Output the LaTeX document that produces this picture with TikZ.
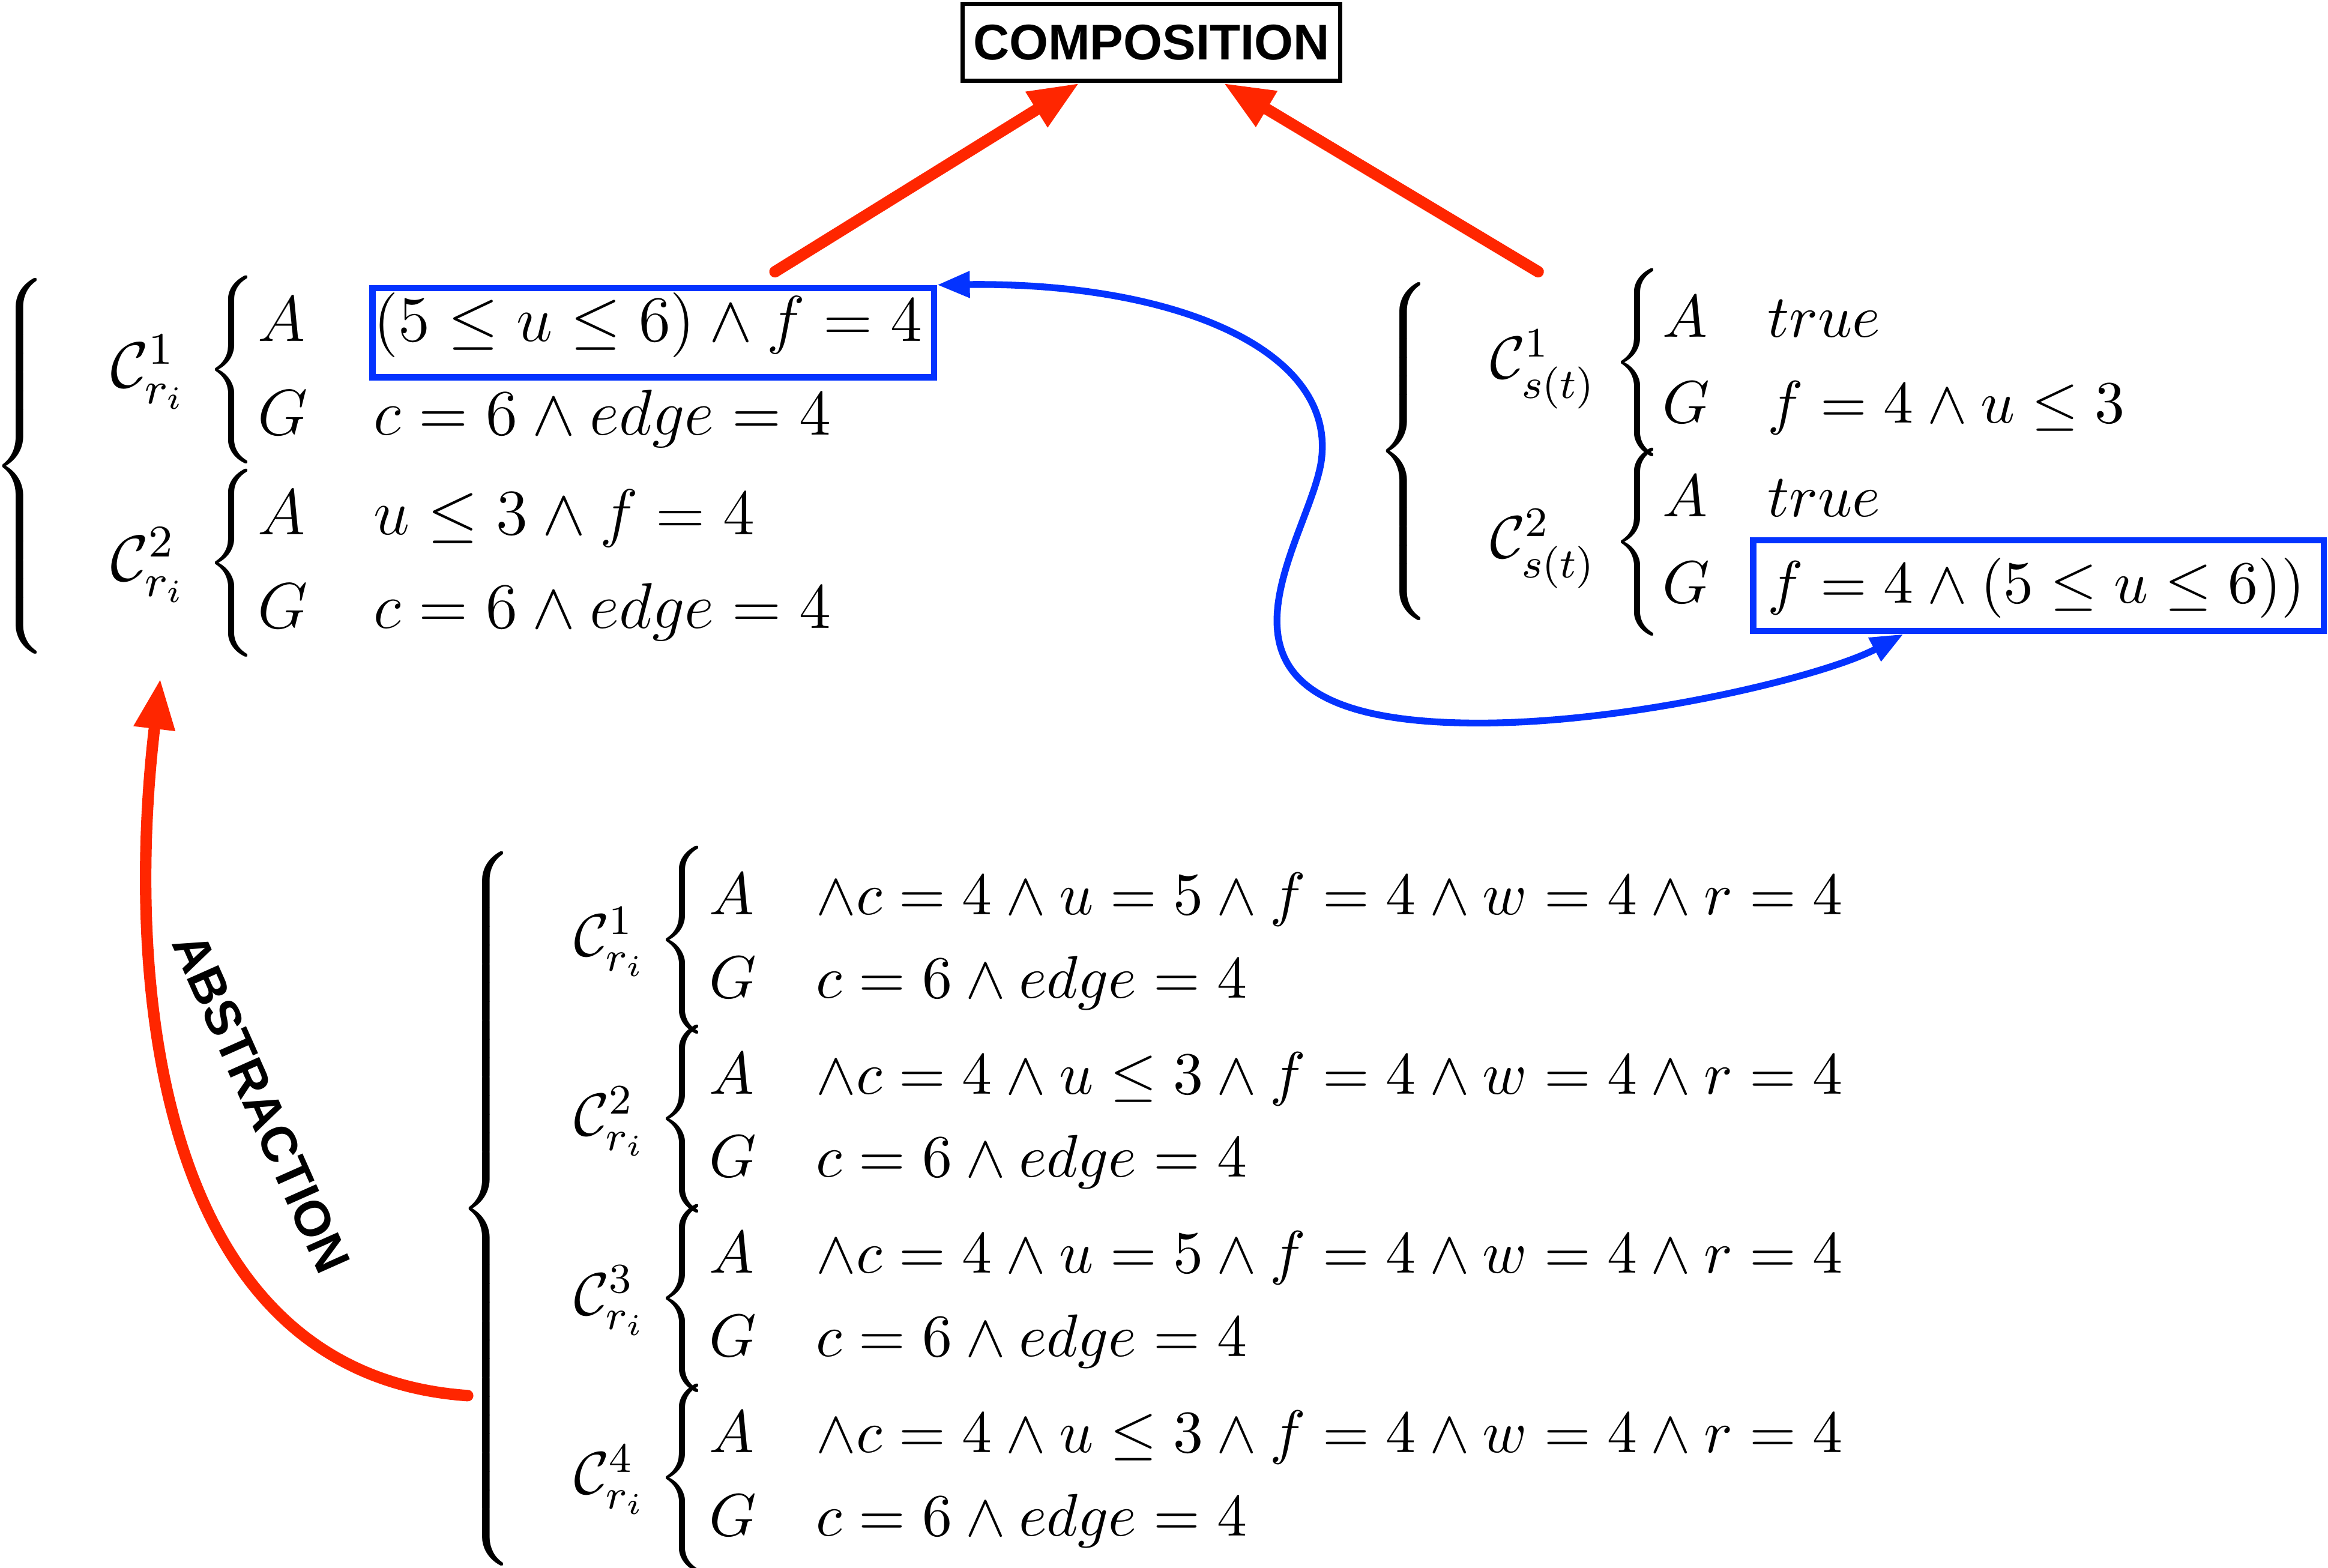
\RequirePackage{fix-cm}
\documentclass[tikz,border=0pt]{standalone}
\usepackage{amsmath}
\usepackage{fontspec}
\newfontfamily\headfont{Liberation Sans}
\usepackage{tikz}
\usetikzlibrary{arrows.meta,calc}
\definecolor{hotred}{RGB}{255,38,0}
\definecolor{brightblue}{RGB}{4,51,255}
\delimiterfactor=1000
\delimitershortfall=0pt
\newcommand{\tallbrace}[1]{$\left\{\vcenter{\hbox{\rule{0pt}{#1}}}\right.$}
\tikzset{
  largemath/.style={font=\fontsize{12.4}{15}\selectfont},
  smallmath/.style={font=\fontsize{11.5}{14}\selectfont},
  entry/.style={anchor=base west,inner sep=0pt},
  bracket/.style={anchor=west,inner sep=0pt},
  hilite/.style={draw=brightblue,line width=1.2pt,inner sep=0pt},
  headlabel/.style={font=\headfont\bfseries\fontsize{9.6}{11}\selectfont,inner sep=0pt},
  compbox/.style={headlabel,draw,line width=0.8pt,minimum width=2.54cm,minimum height=0.52cm},
  redarr/.style={-{Triangle[length=3.4mm,width=2.6mm]},line width=2.2pt,draw=hotred,line cap=round},
  bluearr/.style={{Triangle[length=2.2mm,width=1.7mm]}-{Triangle[length=2.2mm,width=1.7mm]},line width=1.3pt,draw=brightblue}
}

\begin{document}
\begin{tikzpicture}[x=0.01cm,y=-0.01cm]
  \useasboundingbox (0,0) rectangle (1568,1056);
  \node[compbox] (comp) at (775.5,28.5) {COMPOSITION};

  % abstract contract of r_i
  \node[bracket,largemath] (lbrace) at (-6,314) {\tallbrace{5.5em}};
  \node[entry,largemath] (lc1) at (74,261) {$\mathcal{C}^1_{r_i}$};
  \node[bracket,largemath] (lb1) at (138,249) {\tallbrace{2.9em}};
  \node[entry,largemath] (la1) at (173,230) {$A$};
  \node[entry,largemath] (lf1) at (251,230) {$(5\leq u\leq 6)\wedge f=4$};
  \node[entry,largemath] (lg1) at (173,293) {$G$};
  \node[entry,largemath] (lh1) at (251,293) {$c=6\wedge edge=4$};
  \node[entry,largemath] (lc2) at (74,391) {$\mathcal{C}^2_{r_i}$};
  \node[bracket,largemath] (lb2) at (138,379) {\tallbrace{2.9em}};
  \node[entry,largemath] (la2) at (173,360) {$A$};
  \node[entry,largemath] (lf2) at (251,360) {$u\leq 3\wedge f=4$};
  \node[entry,largemath] (lg2) at (173,423) {$G$};
  \node[entry,largemath] (lh2) at (251,423) {$c=6\wedge edge=4$};
  \node[hilite,minimum width=3.78cm,minimum height=0.6cm] (lbox) at (440,224) {};

  % contract of s(t)
  \node[bracket,smallmath] (rbrace) at (926,304) {\tallbrace{5.5em}};
  \node[entry,smallmath] (rc1) at (1003,255) {$\mathcal{C}^1_{s(t)}$};
  \node[bracket,smallmath] (rb1) at (1085,244) {\tallbrace{2.9em}};
  \node[entry,smallmath] (ra1) at (1119,227) {$A$};
  \node[entry,smallmath] (rf1) at (1190,227) {$true$};
  \node[entry,smallmath] (rg1) at (1119,285) {$G$};
  \node[entry,smallmath] (rh1) at (1190,285) {$f=4\wedge u\leq 3$};
  \node[entry,smallmath] (rc2) at (1003,376) {$\mathcal{C}^2_{s(t)}$};
  \node[bracket,smallmath] (rb2) at (1085,365) {\tallbrace{2.9em}};
  \node[entry,smallmath] (ra2) at (1119,348) {$A$};
  \node[entry,smallmath] (rf2) at (1190,348) {$true$};
  \node[entry,smallmath] (rg2) at (1119,406) {$G$};
  \node[entry,smallmath] (rh2) at (1190,406) {$f=4\wedge(5\leq u\leq 6))$};
  \node[hilite,minimum width=3.84cm,minimum height=0.61cm] (rbox) at (1373,394.5) {};

  % concrete contract of r_i
  \node[bracket,smallmath] (bbrace) at (308,814) {\tallbrace{11.4em}};
  \begin{scope}
  \node[entry,smallmath] (bc1) at (386,644) {$\mathcal{C}^1_{r_i}$};
  \node[bracket,smallmath] (bb1) at (442,633) {\tallbrace{2.9em}};
  \node[entry,smallmath] (ba1) at (477,616) {$A$};
  \node[entry,smallmath] (bf1) at (549,616) {$\wedge c=4\wedge u=5\wedge f=4\wedge w=4\wedge r=4$};
  \node[entry,smallmath] (bg1) at (477,672) {$G$};
  \node[entry,smallmath] (bh1) at (549,672) {$c=6\wedge edge=4$};
  \end{scope}
  \begin{scope}[yshift=-1.207cm]
  \node[entry,smallmath] (bc2) at (386,644) {$\mathcal{C}^2_{r_i}$};
  \node[bracket,smallmath] (bb2) at (442,633) {\tallbrace{2.9em}};
  \node[entry,smallmath] (ba2) at (477,616) {$A$};
  \node[entry,smallmath] (bf2) at (549,616) {$\wedge c=4\wedge u\leq 3\wedge f=4\wedge w=4\wedge r=4$};
  \node[entry,smallmath] (bg2) at (477,672) {$G$};
  \node[entry,smallmath] (bh2) at (549,672) {$c=6\wedge edge=4$};
  \end{scope}
  \begin{scope}[yshift=-2.414cm]
  \node[entry,smallmath] (bc3) at (386,644) {$\mathcal{C}^3_{r_i}$};
  \node[bracket,smallmath] (bb3) at (442,633) {\tallbrace{2.9em}};
  \node[entry,smallmath] (ba3) at (477,616) {$A$};
  \node[entry,smallmath] (bf3) at (549,616) {$\wedge c=4\wedge u=5\wedge f=4\wedge w=4\wedge r=4$};
  \node[entry,smallmath] (bg3) at (477,672) {$G$};
  \node[entry,smallmath] (bh3) at (549,672) {$c=6\wedge edge=4$};
  \end{scope}
  \begin{scope}[yshift=-3.621cm]
  \node[entry,smallmath] (bc4) at (386,644) {$\mathcal{C}^4_{r_i}$};
  \node[bracket,smallmath] (bb4) at (442,633) {\tallbrace{2.9em}};
  \node[entry,smallmath] (ba4) at (477,616) {$A$};
  \node[entry,smallmath] (bf4) at (549,616) {$\wedge c=4\wedge u\leq 3\wedge f=4\wedge w=4\wedge r=4$};
  \node[entry,smallmath] (bg4) at (477,672) {$G$};
  \node[entry,smallmath] (bh4) at (549,672) {$c=6\wedge edge=4$};
  \end{scope}

  \coordinate (ltail) at (522,183);
  \coordinate (rtail) at (1036,183);
  \coordinate (abtail) at (315,940);
  \coordinate (abhead) at (108,457);
  \draw[redarr] (ltail) -- ($(comp.south)+(-48.5,0)$);
  \draw[redarr] (rtail) -- ($(comp.south)+(48.5,0)$);
  \draw[redarr] (abtail) .. controls (100,925) and (85,650) .. (abhead);
  \node[headlabel,rotate=-66] (ablabel) at (176,743) {ABSTRACTION};
  \draw[bluearr] (lbox.north east) .. controls (790,190) and (900,235) .. (890,310)
    .. controls (882,367) and (783,487) .. (996,487)
    .. controls (1100,487) and (1230,455) .. ($(rbox.south)+(-91,0)$);
\end{tikzpicture}
\end{document}
